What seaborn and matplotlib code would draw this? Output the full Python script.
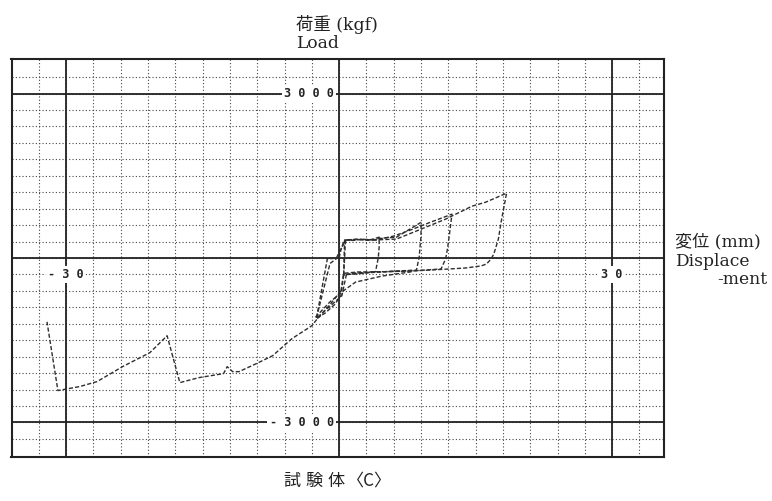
import numpy as np
import pandas as pd
import matplotlib
matplotlib.use("Agg")
import matplotlib.pyplot as plt
import seaborn as sns

# ---- data (displacement mm, load kgf) ----
c1_x = [0, 0.2, 0.5, 0.8, 1.5, 2.5, 3.5, 4.4, 4.4, 4.3, 4.0, 3.0, 2.0, 1.0, 0.5]
c1_y = [0, 150, 300, 330, 320, 340, 335, 380, 200, 0, -250, -270, -290, -300, -310]

n1_x = [0.5, 0.2, -0.5, -1.5, -2.5, -1.3, -0.3, 0.3, 0.8]
n1_y = [-310, -685, -850, -1000, -1110, -20, 0, 200, 330]

c2_x = [0.8, 2, 3.5, 4.5, 6.3, 7.5, 9.0, 9.0, 8.8, 8.5, 6, 4, 2, 0.8]
c2_y = [330, 340, 320, 360, 380, 500, 650, 400, 20, -220, -240, -260, -280, -300]

n2_x = [0.8, 0.3, -0.6, -2.5, -1.0, -0.2]
n2_y = [-300, -690, -820, -1100, -100, 0]

r2_x = [-2.6, -1.0, 0.5, 1.8, 4.7, 8.0]
r2_y = [-1080, -800, -595, -440, -330, -250]

c3_x = [0.5, 0.6, 2, 4, 6, 8, 10, 12.4, 12.1, 11.9, 11.7, 11.2, 8, 5, 2, 0.5]
c3_y = [-300, 330, 340, 330, 400, 520, 650, 800, 400, 164, -18, -200, -236, -250, -270, -310]

c4_x = [0.5, 0.7, 2, 4, 6.3, 9.5, 11.7, 14.6, 16.1, 18.4, 17.8, 17.5, 17.0, 16.7,
        16.2, 15.6, 13.9, 12.1, 10.2, 8.0, 5, 2, 0.5, 0.2]
c4_y = [-320, 320, 340, 330, 345, 560, 709, 945, 1018, 1182, 655, 345, 73, -18,
        -109, -145, -182, -200, -218, -236, -250, -255, -280, -600]

neg_x = [0.2, -1.0, -2.4, -3.0, -5.2, -7.3, -9.1, -11.0, -11.7, -12.3, -12.7, -15.4,
         -17.5, -18.9, -20.8, -23.8, -26.6, -28.5, -30.9, -32.1]
neg_y = [-600, -850, -1109, -1236, -1473, -1782, -1927, -2073, -2073, -1982, -2109, -2182,
         -2273, -1418, -1727, -1982, -2255, -2345, -2418, -1164]

segments = [(c1_x, c1_y), (n1_x, n1_y), (c2_x, c2_y), (n2_x, n2_y), (r2_x, r2_y),
            (c3_x, c3_y), (c4_x, c4_y), (neg_x, neg_y)]

major_x = [-30, 0, 30]
major_y = [-3000, 0, 3000]
x_labels = {-30: "- 3 0", 30: "3 0"}
y_labels = {3000: "3 0 0 0", -3000: "- 3 0 0 0"}
title_parts = ["試", "験", "体", "〈C〉"]

# ---- figure ----
sns.set_style("white")
fig = plt.figure(figsize=(7.72, 5.01), dpi=100)
ax = fig.add_axes([11.5 / 772, 1 - 457 / 501, (664 - 11.5) / 772, (457 - 59) / 501])
ax.set_xlim(-36, 35.7)
ax.set_ylim(-3630, 3630)

ax.set_xticks(np.arange(-33, 36, 3))
ax.set_yticks(np.arange(-3300, 3400, 300))
ax.grid(True, color="#444444", linestyle=(0, (1, 2)), linewidth=0.8)
ax.tick_params(length=0, labelbottom=False, labelleft=False)
for s in ax.spines.values():
    s.set_color("#222222")
    s.set_linewidth(1.5)

for v in major_x:
    ax.axvline(v, color="#222222", lw=1.3, zorder=2)
for v in major_y:
    ax.axhline(v, color="#222222", lw=1.3, zorder=2)

for sx, sy in segments:
    df = pd.DataFrame({"x": sx, "y": sy})
    sns.lineplot(data=df, x="x", y="y", sort=False, estimator=None, ax=ax,
                 color="#2e2e2e", lw=1.0, linestyle=(0, (3, 1.5)), zorder=3)
ax.set_xlabel("")
ax.set_ylabel("")

mono = dict(family="DejaVu Sans Mono", fontweight="bold", fontsize=8.5, color="#222222")
box = dict(facecolor="white", edgecolor="none", pad=1.5)
for xv, t in x_labels.items():
    ax.text(xv, -300, t, ha="center", va="center", bbox=box, zorder=4, **mono)
for yv, t in y_labels.items():
    ax.text(-0.6, yv, t, ha="right", va="center", bbox=box, zorder=4, **mono)

fam = ["DejaVu Serif", "Noto Sans CJK JP"]
fig.text(296 / 772, 1 - 30 / 501, "荷重 (kgf)", family=fam, fontsize=12.5,
         va="baseline", ha="left", color="#222222")
fig.text(296 / 772, 1 - 47.5 / 501, "Load", family=fam, fontsize=12.3,
         va="baseline", ha="left", color="#222222")
fig.text(675 / 772, 1 - 246 / 501, "変位 (mm)", family=fam, fontsize=12.3,
         va="baseline", ha="left", color="#222222")
fig.text(675 / 772, 1 - 266.5 / 501, "Displace", family=fam, fontsize=12.3,
         va="baseline", ha="left", color="#222222")
fig.text(767 / 772, 1 - 284 / 501, "-ment", family=fam, fontsize=12.3,
         va="baseline", ha="right", color="#222222")
title_x = [283, 305, 327, 347]
for px, t in zip(title_x, title_parts):
    fig.text(px / 772, 1 - 486 / 501, t, family=["Noto Sans CJK JP"],
             fontsize=12.3, va="baseline", ha="left", color="#222222")

fig.savefig("out.png", dpi=100, facecolor="white")
